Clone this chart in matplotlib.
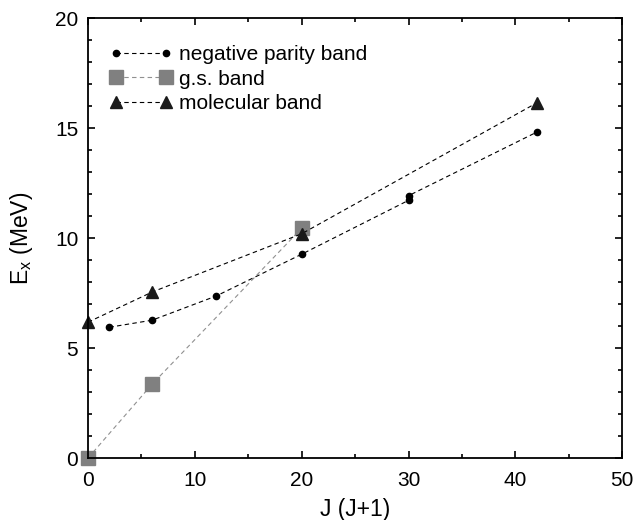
import matplotlib
matplotlib.use("Agg")
import matplotlib.pyplot as plt
from matplotlib.ticker import MultipleLocator

plt.rcParams['font.family'] = ['Liberation Sans', 'DejaVu Sans']

neg_x = [2, 6, 12, 20, 30, 30, 42]
neg_y = [5.95, 6.27, 7.37, 9.27, 11.72, 11.93, 14.82]

gs_x = [0, 6, 20]
gs_y = [0.0, 3.36, 10.45]

mol_x = [0, 6, 20, 42]
mol_y = [6.18, 7.55, 10.2, 16.15]

fig = plt.figure(figsize=(6.33, 5.2), dpi=100)
ax = fig.add_axes([0.139, 0.119, 0.844, 0.846])

ax.plot(neg_x, neg_y, linestyle='--', color='black', lw=0.8, marker='o', ms=4.5,
        label='negative parity band', clip_on=False, dashes=(4, 3))
ax.plot(gs_x, gs_y, linestyle='--', color='#909090', lw=0.8, marker='s', ms=9.5,
        markerfacecolor='#808080', markeredgecolor='#808080',
        label='g.s. band', clip_on=False, dashes=(4, 3))
ax.plot(mol_x, mol_y, linestyle='--', color='black', lw=0.8, marker='^', ms=9,
        markerfacecolor='#1a1a1a', markeredgecolor='#1a1a1a',
        label='molecular band', clip_on=False, dashes=(4, 3))

ax.set_xlim(0, 50)
ax.set_ylim(0, 20)
ax.xaxis.set_major_locator(MultipleLocator(10))
ax.xaxis.set_minor_locator(MultipleLocator(5))
ax.yaxis.set_major_locator(MultipleLocator(5))
ax.yaxis.set_minor_locator(MultipleLocator(1))
ax.tick_params(which='both', direction='in', top=True, right=True, labelsize=15, width=1.2)
ax.tick_params(axis='x', which='major', length=5, pad=9)
ax.tick_params(axis='y', which='major', length=5, pad=7)
ax.tick_params(which='minor', length=3)
for s in ax.spines.values():
    s.set_linewidth(1.3)

ax.set_xlabel('J (J+1)', fontsize=16.5, labelpad=6)
ax.set_ylabel('E$_\\mathregular{x}$ (MeV)', fontsize=16.5, labelpad=14)

ax.legend(loc='upper left', frameon=False, fontsize=15, numpoints=2, handlelength=3.0,
          handletextpad=0.35, labelspacing=0.27, borderaxespad=0,
          bbox_to_anchor=(0.025, 0.958))

fig.savefig('out.png', dpi=100)
